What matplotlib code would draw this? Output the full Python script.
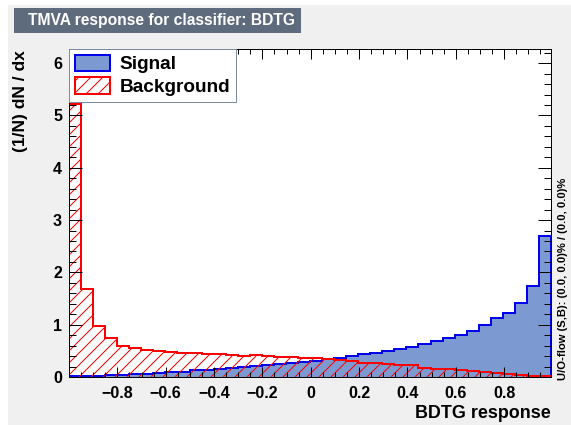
import numpy as np
import matplotlib
matplotlib.use("Agg")
import matplotlib.pyplot as plt
from matplotlib.patches import Patch, Rectangle
from matplotlib.ticker import FixedLocator, MultipleLocator

# BDTG response histograms, 40 bins, normalised (1/N dN/dx)
x_lo, x_hi, n_bins = -1.0, 0.994, 40
signal = [0.01, 0.02, 0.025, 0.035, 0.045, 0.05, 0.06, 0.075, 0.09, 0.10,
          0.13, 0.14, 0.155, 0.17, 0.19, 0.21, 0.22, 0.24, 0.26, 0.28,
          0.31, 0.34, 0.37, 0.40, 0.44, 0.465, 0.50, 0.54, 0.58, 0.625,
          0.68, 0.74, 0.80, 0.88, 0.99, 1.12, 1.22, 1.41, 1.73, 2.70]
background = [5.22, 1.68, 0.98, 0.75, 0.60, 0.56, 0.52, 0.49, 0.47, 0.46,
              0.45, 0.44, 0.44, 0.42, 0.41, 0.43, 0.41, 0.39, 0.38, 0.37,
              0.355, 0.35, 0.325, 0.306, 0.275, 0.26, 0.25, 0.23, 0.22, 0.17,
              0.16, 0.146, 0.13, 0.115, 0.10, 0.07, 0.05, 0.04, 0.02, 0.01]
xticks = [-0.8, -0.6, -0.4, -0.2, 0.0, 0.2, 0.4, 0.6, 0.8]
xticklabels = ["\u22120.8", "\u22120.6", "\u22120.4", "\u22120.2", "0",
               "0.2", "0.4", "0.6", "0.8"]
yticks = [0, 1, 2, 3, 4, 5, 6]

plt.rcParams["font.family"] = ["Liberation Sans", "DejaVu Sans"]
plt.rcParams["font.weight"] = "bold"
plt.rcParams["hatch.linewidth"] = 1.0

W, H, DPI = 571, 425, 72
fig = plt.figure(figsize=(W / DPI, H / DPI), dpi=DPI, facecolor="white")

# canvas and title box
fig.patches.append(Rectangle((8 / W, 0), 1, 1 - 5 / H, transform=fig.transFigure,
                             facecolor="#f0f0f0", edgecolor="none", zorder=-10))
fig.patches.append(Rectangle((14 / W, 1 - 33 / H), 287 / W, 25 / H,
                             transform=fig.transFigure, facecolor="#5d6b7d",
                             edgecolor="none"))
fig.text(28 / W, 1 - 20.5 / H, "TMVA response for classifier: BDTG",
         color="white", fontsize=15.6, fontweight="bold", va="center", ha="left")

ax = fig.add_axes([69 / W, 1 - 377 / H, (551 - 69) / W, (377 - 49) / H])
ax.set_facecolor("white")

edges = np.linspace(x_lo, x_hi, n_bins + 1)
ax.stairs(signal, edges, fill=True, facecolor="#7d99d1", edgecolor="none")
ax.stairs(signal, edges, color="#0000ee", linewidth=2)
ax.stairs(background, edges, fill=True, facecolor="none", edgecolor="#ff0000",
          hatch="//", linewidth=0)
ax.stairs(background, edges, color="#ff0000", linewidth=2)

ax.set_xlim(x_lo, x_hi)
ax.set_ylim(0, 6.27)

ax.xaxis.set_major_locator(FixedLocator(xticks))
ax.set_xticklabels(xticklabels)
ax.xaxis.set_minor_locator(MultipleLocator(0.05))
ax.yaxis.set_major_locator(FixedLocator(yticks))
ax.yaxis.set_minor_locator(MultipleLocator(0.2))
ax.tick_params(axis="both", which="both", direction="in", top=True, right=True,
               width=1, labelsize=16)
ax.tick_params(axis="x", which="major", length=10, pad=9)
ax.tick_params(axis="x", which="minor", length=5)
ax.tick_params(axis="y", which="major", length=13, pad=7)
ax.tick_params(axis="y", which="minor", length=7)
for s in ax.spines.values():
    s.set_linewidth(1)
for lab in ax.get_xticklabels() + ax.get_yticklabels():
    lab.set_fontweight("bold")

fig.text(551 / W, 1 - 413 / H, "BDTG response", ha="right", va="center",
         fontsize=17.9, fontweight="bold")
fig.text(20.5 / W, 1 - 50 / H, "(1/N) dN / dx", ha="center", va="top",
         rotation=90, fontsize=17.4, fontweight="bold")
fig.text(563 / W, 1 - 380 / H, "U/O-flow (S,B): (0.0, 0.0)% / (0.0, 0.0)%",
         ha="center", va="bottom", rotation=90, fontsize=11.2, fontweight="bold")

handles = [Patch(facecolor="#7d99d1", edgecolor="#0000ee", linewidth=2),
           Patch(facecolor="white", edgecolor="#ff0000", hatch="//", linewidth=2)]
leg = ax.legend(handles, ["Signal", "Background"], loc="upper left",
                bbox_to_anchor=(0, 1), borderaxespad=0, fancybox=False,
                framealpha=1, edgecolor="#7d8aa0", prop={"size": 19, "weight": "bold"},
                handlelength=1.85, handleheight=0.95, handletextpad=0.5,
                labelspacing=0.2, borderpad=0.3)
leg.get_frame().set_linewidth(1)

fig.savefig("out.png", dpi=DPI, facecolor=fig.get_facecolor())
